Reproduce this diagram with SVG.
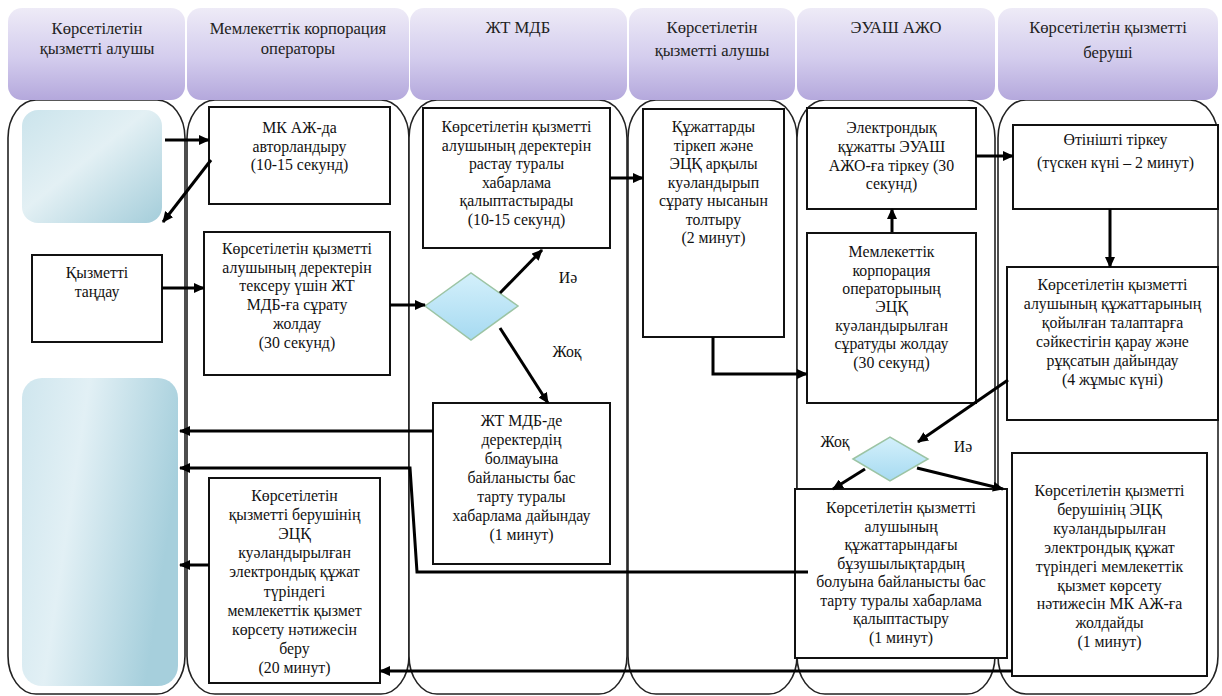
<svg xmlns="http://www.w3.org/2000/svg" width="1222" height="696" viewBox="0 0 1222 696">
<defs>
<linearGradient id="hg" x1="0" y1="0" x2="0" y2="1">
<stop offset="0" stop-color="#eeebf7"/>
<stop offset="0.55" stop-color="#d3cced"/>
<stop offset="1" stop-color="#b4a8dc"/>
</linearGradient>
<linearGradient id="bg" x1="0" y1="0" x2="1" y2="1">
<stop offset="0" stop-color="#cbe4ec"/>
<stop offset="0.45" stop-color="#e3f0f4"/>
<stop offset="1" stop-color="#a4cdda"/>
</linearGradient>
<linearGradient id="bg2" x1="0" y1="0" x2="1" y2="0.3">
<stop offset="0" stop-color="#cfe6ee"/>
<stop offset="0.4" stop-color="#e2f0f5"/>
<stop offset="1" stop-color="#a6cfdc"/>
</linearGradient>
<linearGradient id="dg" x1="0" y1="0" x2="0" y2="1">
<stop offset="0" stop-color="#d4f0fb"/>
<stop offset="1" stop-color="#a6daf1"/>
</linearGradient>
<marker id="ah" markerUnits="userSpaceOnUse" markerWidth="11" markerHeight="10" refX="10" refY="5" orient="auto">
<path d="M0,0 L11,5 L0,10 z" fill="#000"/>
</marker>
<style>
.lane{fill:#fff;stroke:#222;stroke-width:1.6}
.hdr{fill:url(#hg)}
.box{fill:#fff;stroke:#111;stroke-width:2}
.t{font-family:'Liberation Serif','DejaVu Serif','Times New Roman',serif;font-size:15.8px;fill:#111;text-anchor:middle}
.h{font-family:'Liberation Serif','DejaVu Serif','Times New Roman',serif;font-size:16.6px;fill:#222;text-anchor:middle}
.c{stroke:#000;stroke-width:3;fill:none;marker-end:url(#ah)}
.dia{fill:url(#dg);stroke:#9cc4a4;stroke-width:1.5}
</style>
</defs>
<g id="lanes">
<rect class="lane" x="8" y="100" width="177" height="594" rx="28" ry="38"/>
<rect class="lane" x="187" y="100" width="222" height="594" rx="28" ry="38"/>
<rect class="lane" x="409" y="100" width="218" height="594" rx="28" ry="38"/>
<rect class="lane" x="628" y="100" width="169" height="594" rx="28" ry="38"/>
<rect class="lane" x="797" y="100" width="198" height="594" rx="28" ry="38"/>
<rect class="lane" x="998" y="100" width="220" height="594" rx="28" ry="38"/>
</g>
<g id="headers">
<rect class="hdr" x="8" y="8" width="177" height="92" rx="14"/>
<rect class="hdr" x="187" y="8" width="222" height="92" rx="14"/>
<rect class="hdr" x="410" y="8" width="217" height="92" rx="14"/>
<rect class="hdr" x="629" y="8" width="166" height="92" rx="14"/>
<rect class="hdr" x="797" y="8" width="198" height="92" rx="14"/>
<rect class="hdr" x="998" y="8" width="220" height="92" rx="14"/>
<text class="h"><tspan x="97" y="34">Көрсетілетін</tspan><tspan x="97" y="54">қызметті алушы</tspan></text>
<text class="h"><tspan x="298" y="34">Мемлекеттік корпорация</tspan><tspan x="298" y="54">операторы</tspan></text>
<text class="h"><tspan x="518" y="33">ЖТ МДБ</tspan></text>
<text class="h"><tspan x="712" y="33">Көрсетілетін</tspan><tspan x="712" y="56">қызметті алушы</tspan></text>
<text class="h"><tspan x="896" y="33">ЭУАШ АЖО</tspan></text>
<text class="h"><tspan x="1108" y="33">Көрсетілетін қызметті</tspan><tspan x="1108" y="58">беруші</tspan></text>
</g>
<g id="n1"><rect x="22" y="110" width="140" height="113" rx="16" fill="url(#bg)"/></g>
<g id="n2"><rect class="box" x="32" y="255" width="130" height="87"/>
<text class="t"><tspan x="97" y="278">Қызметті</tspan><tspan x="97" y="297">таңдау</tspan></text></g>
<g id="n3"><rect x="22" y="378" width="156" height="308" rx="20" fill="url(#bg2)"/></g>
<g id="n4"><rect class="box" x="209" y="107" width="181" height="97"/>
<text class="t"><tspan x="299.5" y="133">МК АЖ-да</tspan><tspan x="299.5" y="152">авторландыру</tspan><tspan x="299.5" y="170">(10-15 секунд)</tspan></text></g>
<g id="n5"><rect class="box" x="204" y="232" width="186" height="143"/>
<text class="t"><tspan x="297" y="254">Көрсетілетін қызметті</tspan><tspan x="297" y="272.7">алушының деректерін</tspan><tspan x="297" y="291.4">тексеру үшін ЖТ</tspan><tspan x="297" y="310.1">МДБ-ға сұрату</tspan><tspan x="297" y="328.8">жолдау</tspan><tspan x="297" y="347.5">(30 секунд)</tspan></text></g>
<g id="n6"><rect class="box" x="209" y="478" width="171" height="205"/>
<text class="t"><tspan x="294.5" y="501">Көрсетілетін</tspan><tspan x="294.5" y="520.1">қызметті берушінің</tspan><tspan x="294.5" y="539.2">ЭЦҚ</tspan><tspan x="294.5" y="558.3">куәландырылған</tspan><tspan x="294.5" y="577.4">электрондық құжат</tspan><tspan x="294.5" y="596.5">түріндегі</tspan><tspan x="294.5" y="615.6">мемлекеттік қызмет</tspan><tspan x="294.5" y="634.7">көрсету нәтижесін</tspan><tspan x="294.5" y="653.8">беру</tspan><tspan x="294.5" y="672.9">(20 минут)</tspan></text></g>
<g id="n7"><rect class="box" x="423" y="108" width="187" height="140"/>
<text class="t"><tspan x="516.5" y="132">Көрсетілетін қызметті</tspan><tspan x="516.5" y="150.5">алушының деректерін</tspan><tspan x="516.5" y="169">растау туралы</tspan><tspan x="516.5" y="187.5">хабарлама</tspan><tspan x="516.5" y="206">қалыптастырады</tspan><tspan x="516.5" y="224.5">(10-15 секунд)</tspan></text></g>
<g id="n8"><polygon class="dia" points="425,306 471,273 518,306 471,340"/></g>
<g id="n9"><rect class="box" x="433" y="403" width="177" height="161"/>
<text class="t"><tspan x="521.5" y="426">ЖТ МДБ-де</tspan><tspan x="521.5" y="445">деректердің</tspan><tspan x="521.5" y="464">болмауына</tspan><tspan x="521.5" y="483">байланысты бас</tspan><tspan x="521.5" y="502">тарту туралы</tspan><tspan x="521.5" y="521">хабарлама дайындау</tspan><tspan x="521.5" y="540">(1 минут)</tspan></text></g>
<g id="n10"><rect class="box" x="643" y="109" width="141" height="228"/>
<text class="t"><tspan x="713.5" y="132">Құжаттарды</tspan><tspan x="713.5" y="150.5">тіркеп және</tspan><tspan x="713.5" y="169">ЭЦҚ арқылы</tspan><tspan x="713.5" y="187.5">куәландырып</tspan><tspan x="713.5" y="206">сұрату нысанын</tspan><tspan x="713.5" y="224.5">толтыру</tspan><tspan x="713.5" y="243">(2 минут)</tspan></text></g>
<g id="n11"><rect class="box" x="807" y="108" width="169" height="101"/>
<text class="t"><tspan x="891.5" y="133">Электрондық</tspan><tspan x="891.5" y="152">құжатты ЭУАШ</tspan><tspan x="891.5" y="170.5">АЖО-ға тіркеу (30</tspan><tspan x="891.5" y="189">секунд)</tspan></text></g>
<g id="n12"><rect class="box" x="807" y="233" width="169" height="170"/>
<text class="t"><tspan x="891.5" y="257">Мемлекеттік</tspan><tspan x="891.5" y="275.5">корпорация</tspan><tspan x="891.5" y="294">операторының</tspan><tspan x="891.5" y="312">ЭЦҚ</tspan><tspan x="891.5" y="330.5">куәландырылған</tspan><tspan x="891.5" y="349">сұратуды жолдау</tspan><tspan x="891.5" y="368">(30 секунд)</tspan></text></g>
<g id="n13"><polygon class="dia" points="853,459 890,437 928,459 890,481"/></g>
<g id="n14"><rect class="box" x="795" y="489" width="212" height="169"/>
<text class="t"><tspan x="901" y="513">Көрсетілетін қызметті</tspan><tspan x="901" y="531.5">алушының</tspan><tspan x="901" y="550">құжаттарындағы</tspan><tspan x="901" y="568.5">бұзушылықтардың</tspan><tspan x="901" y="587">болуына байланысты бас</tspan><tspan x="901" y="605.5">тарту туралы хабарлама</tspan><tspan x="901" y="624">қалыптастыру</tspan><tspan x="901" y="642.5">(1 минут)</tspan></text></g>
<g id="n15"><rect class="box" x="1013" y="125" width="205" height="84"/>
<text class="t"><tspan x="1115.5" y="145">Өтінішті тіркеу</tspan><tspan x="1115.5" y="168">(түскен күні – 2 минут)</tspan></text></g>
<g id="n16"><rect class="box" x="1007" y="267" width="211" height="153"/>
<text class="t"><tspan x="1112.5" y="290">Көрсетілетін қызметті</tspan><tspan x="1112.5" y="309">алушының құжаттарының</tspan><tspan x="1112.5" y="328">қойылған талаптарға</tspan><tspan x="1112.5" y="347">сәйкестігін қарау және</tspan><tspan x="1112.5" y="366">рұқсатын дайындау</tspan><tspan x="1112.5" y="385">(4 жұмыс күні)</tspan></text></g>
<g id="n17"><rect class="box" x="1012" y="453" width="195" height="223"/>
<text class="t"><tspan x="1109.5" y="496">Көрсетілетін қызметті</tspan><tspan x="1109.5" y="515">берушінің ЭЦҚ</tspan><tspan x="1109.5" y="534">куәландырылған</tspan><tspan x="1109.5" y="553">электрондық құжат</tspan><tspan x="1109.5" y="571.5">түріндегі мемлекеттік</tspan><tspan x="1109.5" y="590.5">қызмет көрсету</tspan><tspan x="1109.5" y="609">нәтижесін МК АЖ-ға</tspan><tspan x="1109.5" y="628">жолдайды</tspan><tspan x="1109.5" y="646.5">(1 минут)</tspan></text></g>
<g id="labels">
<text class="t" x="568" y="283">Иә</text>
<text class="t" x="567" y="357">Жоқ</text>
<text class="t" x="835" y="447">Жоқ</text>
<text class="t" x="963" y="452">Иә</text>
</g>
<g id="connectors">
<path class="c" d="M165,140 L209,140"/>
<path class="c" d="M211,160 L163,222"/>
<path class="c" d="M162,288 L204,288"/>
<path class="c" d="M390,305 L425,305"/>
<path class="c" d="M500,293 L542,250"/>
<path class="c" d="M500,328 L548,403"/>
<path class="c" d="M433,431 L180,431"/>
<path class="c" d="M610,178 L643,178"/>
<path class="c" d="M713,337 L713,374 L807,374"/>
<path class="c" d="M892,232 L892,209"/>
<path class="c" d="M976,156 L1013,156"/>
<path class="c" d="M1110,209 L1110,267"/>
<path class="c" d="M1008,380 L918,442"/>
<path class="c" d="M865,469 L833,489"/>
<path class="c" d="M917,468 L1003,489"/>
<path class="c" d="M808,572 L417,572 L410,468 L180,468"/>
<path class="c" d="M1012,671 L380,671"/>
<path class="c" d="M209,565 L180,565"/>
</g>
</svg>
